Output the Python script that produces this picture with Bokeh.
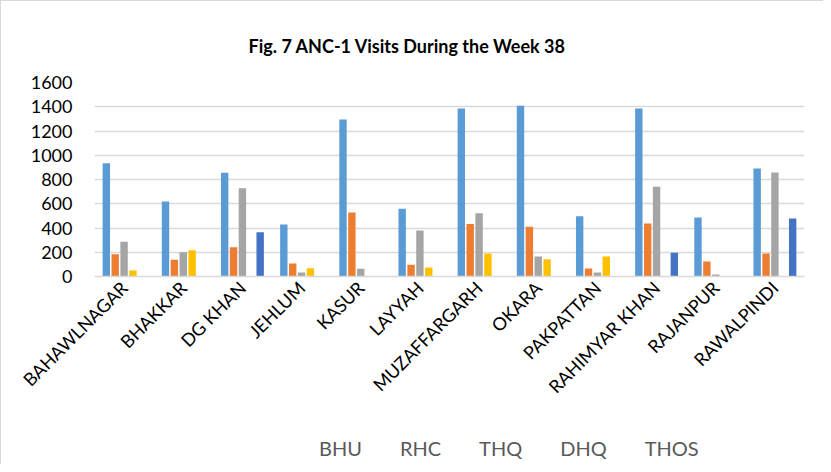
import math
from bokeh.plotting import figure
from bokeh.layouts import column
from bokeh.models import FactorRange, Legend, LegendItem, ColumnDataSource, Range1d, FixedTicker
from bokeh.transform import dodge
from bokeh.embed import file_html
from bokeh.resources import INLINE

districts = ["BAHAWLNAGAR", "BHAKKAR", "DG KHAN", "JEHLUM", "KASUR", "LAYYAH",
             "MUZAFFARGARH", "OKARA", "PAKPATTAN", "RAHIMYAR KHAN", "RAJANPUR", "RAWALPINDI"]
series = ["BHU", "RHC", "THQ", "DHQ", "THOS"]
bhu = [934, 619, 855, 429, 1295, 558, 1386, 1408, 497, 1386, 487, 891]
rhc = [184, 138, 242, 107, 528, 96, 432, 410, 66, 437, 124, 190]
thq = [286, 200, 728, 33, 63, 379, 522, 165, 33, 740, 16, 858]
dhq = [49, 217, 0, 69, 0, 74, 190, 143, 165, 0, 0, 0]
thos = [0, 0, 365, 0, 0, 0, 0, 0, 0, 195, 0, 478]
y_ticks = [0, 200, 400, 600, 800, 1000, 1200, 1400, 1600]
colors = ["#5B9BD5", "#ED7D31", "#A5A5A5", "#FFC000", "#4472C4"]

src = ColumnDataSource(dict(cat=districts, BHU=bhu, RHC=rhc, THQ=thq, DHQ=dhq, THOS=thos))

p = figure(x_range=FactorRange(*districts, range_padding=0), y_range=Range1d(0, 1600),
           width=823, height=424, output_backend="svg", toolbar_location=None,
           min_border_left=93, min_border_right=20, min_border_top=81, min_border_bottom=149)
p.styles = {"border-left": "1px solid #d9d9d9", "border-top": "1px solid #d9d9d9"}

p.title.text = "Fig. 7 ANC-1 Visits During the Week 38"
p.title.text_font = "Lato"
p.title.text_font_size = "18px"
p.title.text_font_style = "bold"
p.title.text_color = "#000000"
p.title.align = "left"
p.title.offset = 154
p.title.standoff = 51

offsets = [-0.30, -0.15, 0.0, 0.15, 0.30]
for s, off, c in zip(series, offsets, colors):
    p.vbar(x=dodge("cat", off, range=p.x_range), top=s, width=0.125, source=src,
           fill_color=c, line_color=None)

p.outline_line_color = None
p.xgrid.grid_line_color = None
p.ygrid.grid_line_color = "#d9d9d9"
p.ygrid.grid_line_width = 1.5
p.yaxis.ticker = FixedTicker(ticks=y_ticks)
p.yaxis.axis_line_color = None
p.yaxis.major_tick_line_color = None
p.yaxis.minor_tick_line_color = None
p.yaxis.major_label_text_font = "Lato"
p.yaxis.major_label_text_font_size = "18px"
p.yaxis.major_label_text_color = "#000000"
p.yaxis.major_label_standoff = 16

p.xaxis.axis_line_color = "#d9d9d9"
p.xaxis.axis_line_width = 1.5
p.xaxis.major_tick_line_color = None
p.xaxis.minor_tick_line_color = None
p.xaxis.major_tick_out = 0
p.xaxis.major_tick_in = 0
p.xaxis.major_label_orientation = math.pi / 4
p.xaxis.major_label_text_font = "Lato"
p.xaxis.major_label_text_font_size = "18px"
p.xaxis.major_label_text_color = "#000000"
p.xaxis.major_label_standoff = 8

# legend strip below the chart
q = figure(width=823, height=40, x_range=Range1d(0, 1), y_range=Range1d(0, 1),
           output_backend="svg", toolbar_location=None,
           min_border_left=0, min_border_right=0, min_border_top=0, min_border_bottom=0)
q.styles = {"border-left": "1px solid #d9d9d9"}
q.axis.visible = False
q.grid.grid_line_color = None
q.outline_line_color = None
items = []
for s, c in zip(series, colors):
    r = q.vbar(x=[], top=[], width=0.1, fill_color=c, line_color=None)
    items.append(LegendItem(label=s, renderers=[r]))
legend = Legend(items=items, orientation="horizontal", location=(204, 4),
                label_text_font="Lato", label_text_font_size="20px", label_text_color="#595959",
                glyph_width=13, glyph_height=13, spacing=17, label_standoff=8,
                padding=4, margin=0,
                border_line_color=None, background_fill_alpha=0)
q.add_layout(legend, "center")

open("out.html", "w").write(file_html(column(p, q, spacing=0), INLINE))
